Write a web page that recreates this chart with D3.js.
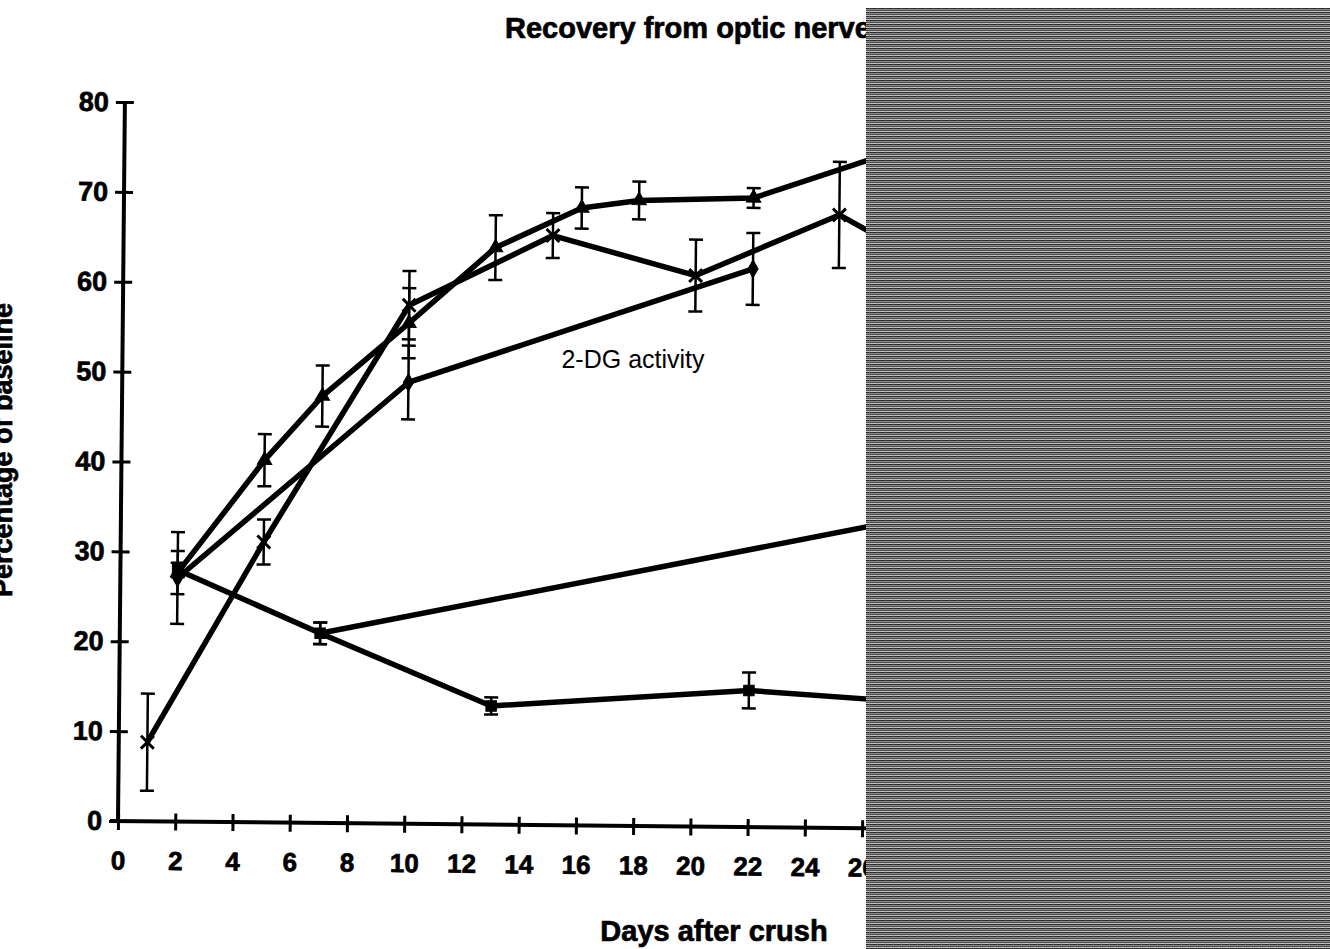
<!DOCTYPE html>
<html>
<head>
    <title>Recovery from optic nerve crush</title>
    <script src="https://cdn.jsdelivr.net/npm/d3@7"></script>
    <style>
        body { margin: 0; background: #fff; }
        text { font-family: "Liberation Sans", Arial, sans-serif; fill: #000; }
        .heavy { font-weight: bold; stroke: #000; stroke-width: 0.7px; }
    </style>
</head>
<body>
    <svg width="1330" height="949" id="mainsvg"></svg>
    <script>
        // values (last point of each line sits under the grey block)
        const triDays = [2, 5, 7, 10, 13, 16, 18, 22, 28];
        const triVals = [27.7, 40.3, 47.5, 55.7, 64.2, 68.7, 69.6, 70.0, 76.5];
        const triErr  = [2.4, 2.9, 3.4, 3.9, 3.6, 2.3, 2.1, 1.1, 2.0];

        const crossDays = [1, 5, 10, 15, 20, 25, 28];
        const crossVals = [8.8, 31.2, 57.7, 65.6, 61.3, 68.2, 63.0];
        const crossErr  = [5.4, 2.5, 3.8, 2.5, 4.0, 5.9, 3.0];

        const diaDays = [2, 10, 22];
        const diaVals = [27.1, 49.1, 62.1];
        const diaErr  = [5.1, 4.1, 4.0];

        const sqDays = [2, 7, 13, 22, 28];
        const sqVals = [28.0, 21.1, 13.2, 15.2, 14.0];
        const sqErr  = [0.8, 1.2, 0.95, 2.0, 1.5];

        const riseDays = [7, 30];
        const riseVals = [21.1, 36.1];
        const riseErr  = [1.2, 2.0];

        const xTicks = d3.range(0, 40, 2);
        const yTicks = [0, 10, 20, 30, 40, 50, 60, 70, 80];

        const svg = d3.select('svg');
        const width = +svg.attr('width');
        const height = +svg.attr('height');

        const x = d3.scaleLinear().domain([0, 40]).range([118, 118 + 40 * 28.62]);
        const y = d3.scaleLinear().domain([0, 80]).range([821, 102]);

        // the scan is tilted a little clockwise
        const g = svg.append('g').attr('transform', 'rotate(0.55,118,821)');

        const xAxis = g.append('g').attr('transform', `translate(0,${y(0)})`)
            .call(d3.axisBottom(x).tickValues(xTicks).tickSizeInner(9).tickSizeOuter(0).tickPadding(0));
        xAxis.select('.domain').attr('d', `M110,0H${x(40)}`).attr('stroke-width', 4);
        xAxis.selectAll('.tick line').attr('y1', -8).attr('y2', 9).attr('stroke-width', 3);
        xAxis.selectAll('.tick text').attr('y', 30).attr('dy', '0.71em').attr('class', 'heavy')
            .style('font-size', '26px').style('font-family', '"Liberation Sans", Arial, sans-serif');

        const yAxis = g.append('g').attr('transform', `translate(${x(0)},0)`)
            .call(d3.axisLeft(y).tickValues(yTicks).tickSizeInner(9).tickSizeOuter(0).tickPadding(0));
        yAxis.select('.domain').attr('d', `M0,${y(80)}V${y(0) + 2}`).attr('stroke-width', 4);
        yAxis.selectAll('.tick line').attr('x1', -9).attr('x2', 9).attr('stroke-width', 3);
        yAxis.selectAll('.tick text').attr('x', -16).attr('class', 'heavy')
            .style('font-size', '27px').style('font-family', '"Liberation Sans", Arial, sans-serif');

        const line = d3.line().x(d => x(d.day)).y(d => y(d.val));
        const toPts = (days, vals, errs) => days.map((d, i) => ({ day: d, val: vals[i], err: errs[i] }));

        const series = [
            { pts: toPts(triDays, triVals, triErr), sym: d3.symbolTriangle, size: 90, fill: true },
            { pts: toPts(crossDays, crossVals, crossErr), sym: d3.symbolX, size: 110, fill: false },
            { pts: toPts(diaDays, diaVals, diaErr), sym: d3.symbolDiamond, size: 90, fill: true },
            { pts: toPts(sqDays, sqVals, sqErr), sym: d3.symbolSquare, size: 110, fill: true },
            { pts: toPts(riseDays, riseVals, riseErr), sym: null }
        ];

        series.forEach(s => {
            g.append('path').datum(s.pts).attr('d', line)
                .attr('fill', 'none').attr('stroke', '#000').attr('stroke-width', 5.5)
                .attr('stroke-linejoin', 'round');

            const eb = g.append('g').selectAll('g').data(s.pts).join('g');
            eb.append('line').attr('x1', d => x(d.day)).attr('x2', d => x(d.day))
                .attr('y1', d => y(d.val + d.err)).attr('y2', d => y(d.val - d.err))
                .attr('stroke', '#000').attr('stroke-width', 2.5);
            eb.selectAll('.cap').data(d => [d.val + d.err, d.val - d.err].map(v => ({ day: d.day, v })))
                .join('line').attr('class', 'cap')
                .attr('x1', d => x(d.day) - 7).attr('x2', d => x(d.day) + 7)
                .attr('y1', d => y(d.v)).attr('y2', d => y(d.v))
                .attr('stroke', '#000').attr('stroke-width', 2.5);

            if (s.sym) {
                g.append('g').selectAll('path').data(s.pts).join('path')
                    .attr('transform', d => `translate(${x(d.day)},${y(d.val)})`)
                    .attr('d', d3.symbol(s.sym, s.size))
                    .attr('fill', s.fill ? '#000' : 'none')
                    .attr('stroke', '#000').attr('stroke-width', s.fill ? 1 : 3);
            }
        });

        svg.append('text').attr('x', 633).attr('y', 368).attr('text-anchor', 'middle')
            .style('font-size', '25px').text('2-DG activity');

        svg.append('text').attr('x', 505).attr('y', 38).attr('class', 'heavy')
            .style('font-size', '29px')
            .text('Recovery from optic nerve crush');

        svg.append('text').attr('x', 714).attr('y', 941).attr('text-anchor', 'middle').attr('class', 'heavy')
            .style('font-size', '29px').text('Days after crush');

        // only the lower half of the rotated label shows at the left edge of the scan
        svg.append('text').attr('transform', 'translate(12,450) rotate(-90)').attr('text-anchor', 'middle')
            .attr('class', 'heavy').style('font-size', '27px').text('Percentage of baseline');

        // grey striped block covering the right part of the scan
        const defs = svg.append('defs');
        const pat = defs.append('pattern').attr('id', 'stripes').attr('patternUnits', 'userSpaceOnUse')
            .attr('width', 8).attr('height', 4);
        const rows = [['#2a2a2a', 0], ['#8c8c8c', 1], ['#4a4a4a', 2], ['#c4c4c4', 3]];
        rows.forEach(r => pat.append('rect').attr('x', 0).attr('y', r[1]).attr('width', 8).attr('height', 1).attr('fill', r[0]));
        pat.append('rect').attr('x', 5).attr('y', 0).attr('width', 1).attr('height', 4).attr('fill', '#7a7a7a').attr('opacity', 0.5);

        svg.append('rect').attr('x', 866).attr('y', 8).attr('width', width - 866).attr('height', height - 8)
            .attr('fill', 'url(#stripes)');
    </script>
</body>
</html>
